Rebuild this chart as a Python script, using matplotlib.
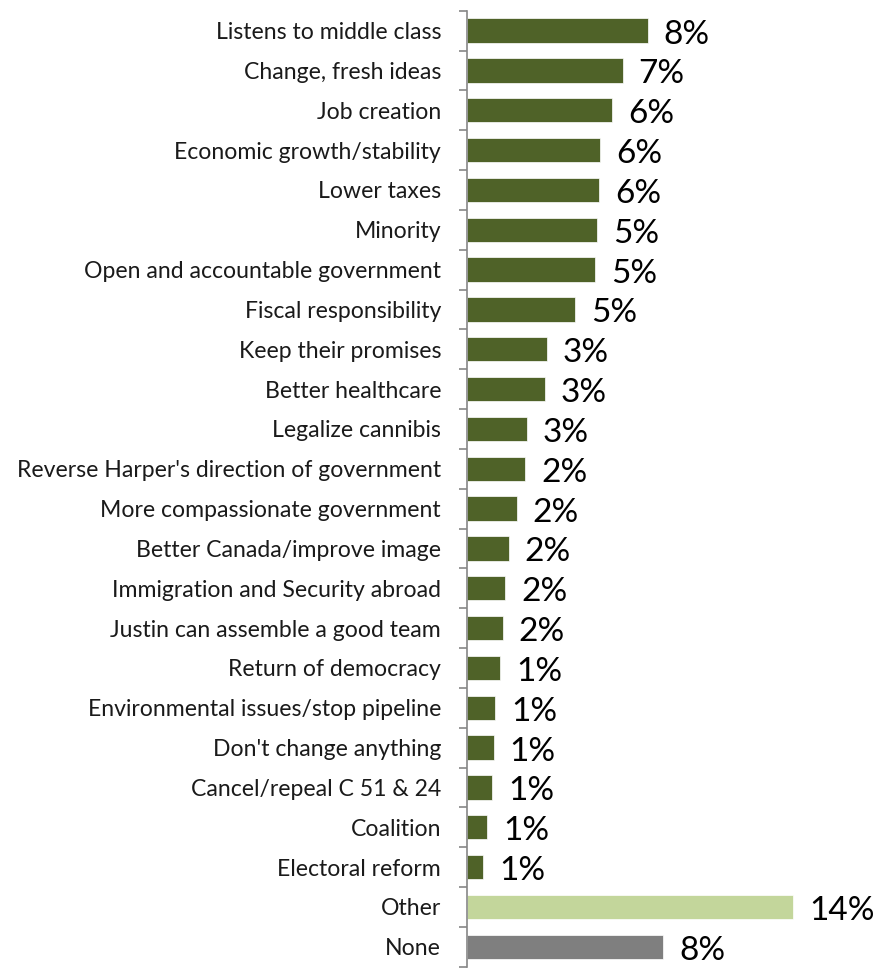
import numpy as np
import matplotlib
matplotlib.use("Agg")
import matplotlib.pyplot as plt

categories = ["Listens to middle class", "Change, fresh ideas", "Job creation",
              "Economic growth/stability", "Lower taxes", "Minority",
              "Open and accountable government", "Fiscal responsibility",
              "Keep their promises", "Better healthcare", "Legalize cannibis",
              "Reverse Harper's direction of government",
              "More compassionate government", "Better Canada/improve image",
              "Immigration and Security abroad", "Justin can assemble a good team",
              "Return of democracy", "Environmental issues/stop pipeline",
              "Don't change anything", "Cancel/repeal C 51 & 24", "Coalition",
              "Electoral reform", "Other", "None"]
values = [7.60, 6.55, 6.09, 5.59, 5.55, 5.46, 5.38, 4.54, 3.36, 3.28, 2.52, 2.44,
          2.10, 1.76, 1.63, 1.51, 1.42, 1.18, 1.13, 1.06, 0.85, 0.70, 13.73, 8.26]
labels = ["8%", "7%", "6%", "6%", "6%", "5%", "5%", "5%", "3%", "3%", "3%", "2%",
          "2%", "2%", "2%", "2%", "1%", "1%", "1%", "1%", "1%", "1%", "14%", "8%"]

colors = ["#4F6228"] * 22 + ["#C3D69B", "#7F7F7F"]

plt.rcParams['font.family'] = ['Lato', 'DejaVu Sans']

fig = plt.figure(figsize=(8.85, 9.73), dpi=100)
ax = fig.add_axes([466.7 / 885, 1 - 966.7 / 973, 1 - 466.7 / 885, 956 / 973])

y = np.arange(len(categories))
ax.barh(y, values, height=0.61, color=colors, edgecolor="white", linewidth=0.5)
ax.set_ylim(len(categories) - 0.5, -0.5)
ax.set_xlim(0, 17.58)

for yi, v, lab in zip(y, values, labels):
    ax.text(v + 0.68, yi + 0.1, lab, va="center", ha="left", fontsize=24, color="black")

ax.set_yticks(y)
ax.set_yticklabels(categories, fontsize=16.6, color="#1a1a1a")
ax.set_yticks(np.arange(len(categories) + 1) - 0.5, minor=True)
ax.tick_params(axis="y", which="major", length=0, pad=18.5)
ax.tick_params(axis="y", which="minor", length=6, color="#868686", width=1.2)
ax.set_xticks([])
for s in ["top", "right", "bottom"]:
    ax.spines[s].set_visible(False)
ax.spines["left"].set_color("#868686")
ax.spines["left"].set_linewidth(1.2)

fig.savefig("out.png", dpi=100)
